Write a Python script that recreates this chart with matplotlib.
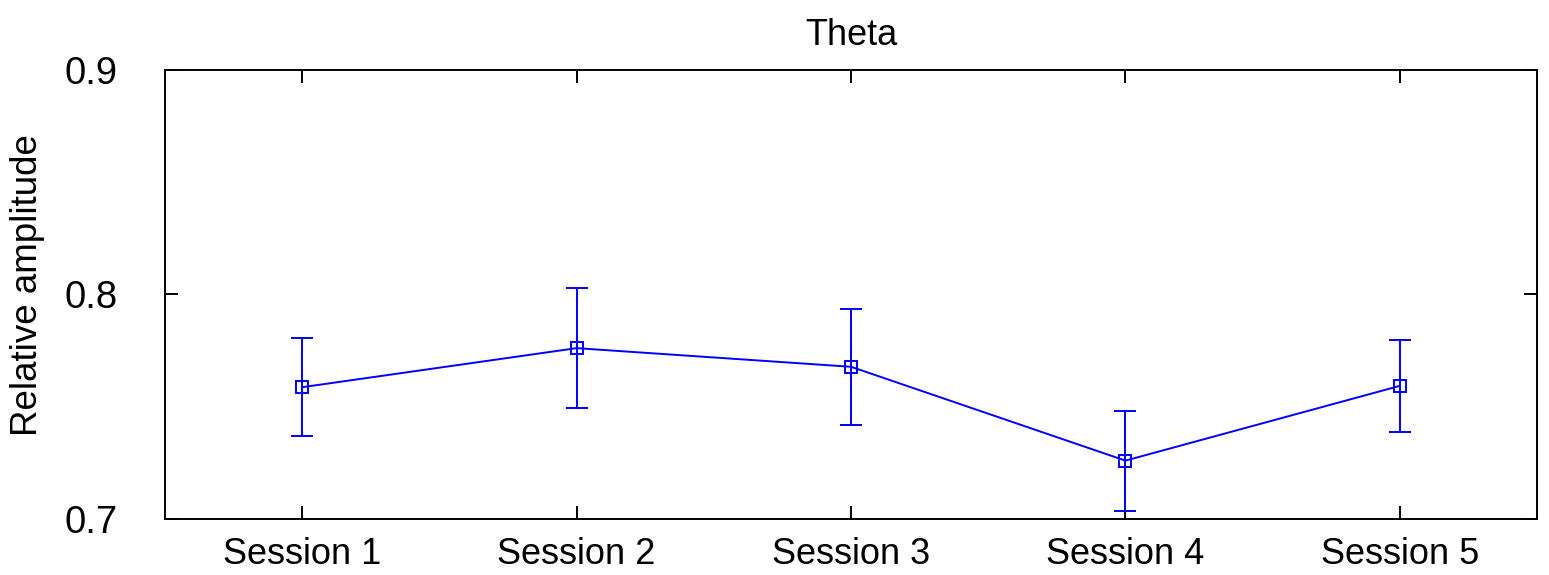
import matplotlib.pyplot as plt
import numpy as np

plt.rcParams['font.family'] = ['Liberation Sans', 'DejaVu Sans']

# values
sessions = ['Session 1', 'Session 2', 'Session 3', 'Session 4', 'Session 5']
amplitude = [0.7587, 0.7761, 0.7678, 0.7260, 0.7593]
err = [0.0217, 0.0267, 0.0259, 0.0223, 0.0205]

x = np.arange(1, len(sessions) + 1)

fig = plt.figure(figsize=(15.49, 5.75), dpi=100)
ax = fig.add_axes([0.1065, 0.0974, 0.8858, 0.7809])

ax.errorbar(x, amplitude, yerr=err, color='#0000ff', lw=1.4,
            marker='s', markersize=9, markerfacecolor='none',
            markeredgewidth=1.4, capsize=8, capthick=1.4, elinewidth=1.4)

ax.set_xlim(0.5, 5.5)
ax.set_ylim(0.7, 0.9)
ax.set_xticks(x)
ax.set_xticklabels(sessions)
ax.set_yticks([0.7, 0.8, 0.9])
ax.set_yticklabels(['0.7', '0.8', '0.9'])

ax.tick_params(direction='in', length=9.5, width=1.4, top=True, right=True)
ax.tick_params(axis='x', labelsize=26, pad=13)
ax.tick_params(axis='y', labelsize=27.5, pad=34)
for s in ax.spines.values():
    s.set_linewidth(1.4)

ax.set_ylabel('Relative amplitude', fontsize=26.5)
ax.yaxis.set_label_coords(-0.0875, 0.52)
ax.set_title('Theta', fontsize=26, pad=18)

fig.savefig('out.png', dpi=100)
